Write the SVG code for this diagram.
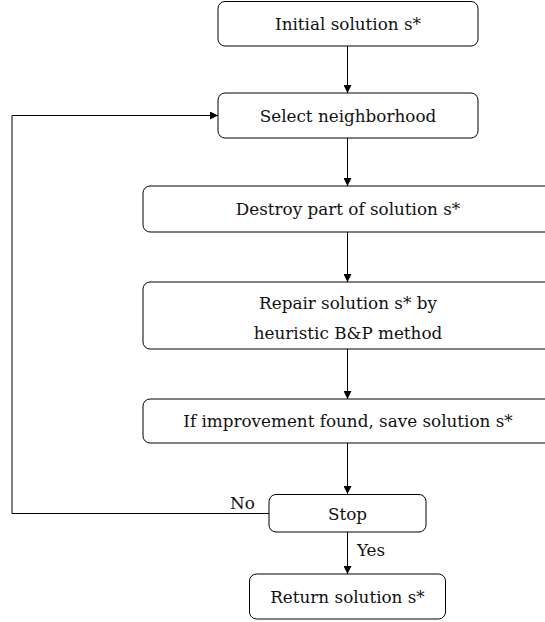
<svg xmlns="http://www.w3.org/2000/svg" width="545" height="622" viewBox="0 0 545 622">
<style>
.box{fill:#fff;stroke:#000;stroke-width:1}
.t{font-family:"DejaVu Serif",serif;font-size:16.8px;fill:#111;text-anchor:middle;dominant-baseline:central}
.l{font-family:"DejaVu Serif",serif;font-size:16.8px;fill:#111}
.c{fill:none;stroke:#000;stroke-width:1}
</style>
<defs>
<marker id="a" viewBox="0 0 10 10" refX="10" refY="5" markerWidth="8" markerHeight="8" markerUnits="userSpaceOnUse" orient="auto">
<path d="M0,0 L10,5 L0,10 z" fill="#000"/>
</marker>
</defs>
<rect width="545" height="622" fill="#fff"/>
<g id="connectors">
<line class="c" x1="347.5" y1="46" x2="347.5" y2="93" marker-end="url(#a)"/>
<line class="c" x1="347.5" y1="138" x2="347.5" y2="186" marker-end="url(#a)"/>
<line class="c" x1="347.5" y1="232" x2="347.5" y2="282" marker-end="url(#a)"/>
<line class="c" x1="347.5" y1="349" x2="347.5" y2="399" marker-end="url(#a)"/>
<line class="c" x1="347.5" y1="443" x2="347.5" y2="494" marker-end="url(#a)"/>
<line class="c" x1="347.5" y1="532" x2="347.5" y2="574" marker-end="url(#a)"/>
<polyline class="c" points="269,513.5 12,513.5 12,115.5 218,115.5" marker-end="url(#a)"/>
<text class="l" x="230" y="509">No</text>
<text class="l" x="357" y="556">Yes</text>
</g>
<g id="n1"><rect class="box" x="218" y="1.5" width="260" height="44.5" rx="7"/><text class="t" x="348" y="24">Initial solution s*</text></g>
<g id="n2"><rect class="box" x="218" y="93" width="260" height="45" rx="7"/><text class="t" x="348" y="115.5">Select neighborhood</text></g>
<g id="n3"><rect class="box" x="143" y="186" width="410" height="46" rx="7"/><text class="t" x="348" y="209">Destroy part of solution s*</text></g>
<g id="n4"><rect class="box" x="143" y="282" width="410" height="67" rx="7"/><text class="t" x="348" y="303">Repair solution s* by</text><text class="t" x="348" y="333">heuristic B&amp;P method</text></g>
<g id="n5"><rect class="box" x="143" y="399" width="410" height="44" rx="7"/><text class="t" x="348" y="421">If improvement found, save solution s*</text></g>
<g id="n6"><rect class="box" x="269" y="494.5" width="157" height="37.5" rx="7"/><text class="t" x="347.5" y="514">Stop</text></g>
<g id="n7"><rect class="box" x="249.5" y="574" width="196" height="45" rx="7"/><text class="t" x="347.5" y="597">Return solution s*</text></g>
</svg>
